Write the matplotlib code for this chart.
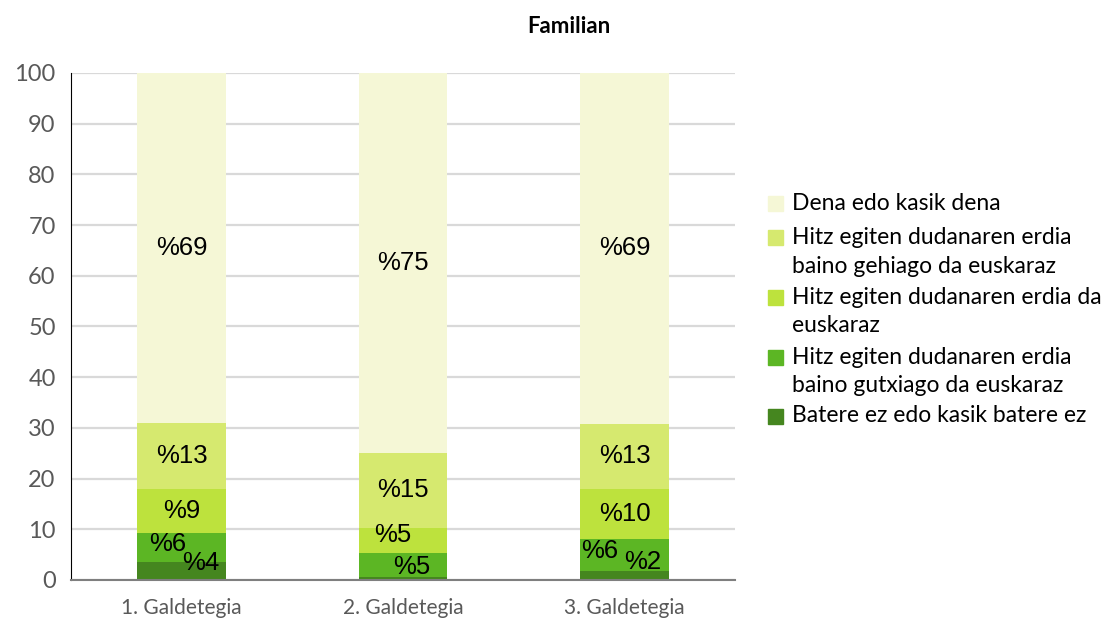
import matplotlib
matplotlib.use("Agg")
import matplotlib.pyplot as plt
from matplotlib.patches import Rectangle
import numpy as np

# data
categories = ['1. Galdetegia', '2. Galdetegia', '3. Galdetegia']
series_names = [
    'Batere ez edo kasik batere ez',
    'Hitz egiten dudanaren erdia\nbaino gutxiago da euskaraz',
    'Hitz egiten dudanaren erdia da\neuskaraz',
    'Hitz egiten dudanaren erdia\nbaino gehiago da euskaraz',
    'Dena edo kasik dena',
]
batere_ez = [3.6, 0.5, 1.8]
gutxiago = [5.6, 4.8, 6.3]
erdia = [8.7, 5.0, 9.9]
gehiago = [13.0, 14.8, 12.8]
dena = [69.1, 74.9, 69.2]
# labels shown in the chart ('' = no label)
labels = [
    ['%4', '', '%2'],
    ['%6', '%5', '%6'],
    ['%9', '%5', '%10'],
    ['%13', '%15', '%13'],
    ['%69', '%75', '%69'],
]
yticks = list(range(0, 101, 10))

colors = ['#45861F', '#5CB624', '#BDE23D', '#D6E96F', '#F5F7D6']

# manual label nudges (series index, bar index) -> (dx in categories, dy in data units)
nudges = {
    (0, 0): (0.086, 1.5), (1, 0): (-0.063, 0.7),
    (1, 1): (0.04, -0.3), (2, 1): (-0.045, 1.1),
    (0, 2): (0.083, 2.65), (1, 2): (-0.11, 0.8),
}

plt.rcParams['font.family'] = ['Lato', 'DejaVu Sans']

fig = plt.figure(figsize=(11.2, 6.26), dpi=100)
ax = fig.add_axes([0.0634, 0.0735, 0.593, 0.81])

series = [batere_ez, gutxiago, erdia, gehiago, dena]
x = np.arange(len(categories))
bottom = np.zeros(len(categories))
for i, vals in enumerate(series):
    vals = np.array(vals)
    ax.bar(x, vals, width=0.4, bottom=bottom, color=colors[i], zorder=2)
    for j in range(len(categories)):
        if labels[i][j]:
            dx, dy = nudges.get((i, j), (0, 0))
            ax.text(x[j] + dx, bottom[j] + vals[j] / 2 + dy, labels[i][j],
                    ha='center', va='center', fontsize=18.5, color='black',
                    family='Liberation Sans', zorder=3)
    bottom += vals

ax.set_xlim(-0.5, 2.5)
ax.set_ylim(0, 100)
ax.set_yticks(yticks)
ax.set_xticks(x)
ax.set_xticklabels(categories)
ax.yaxis.grid(True, color='#D9D9D9', linewidth=1.6, zorder=0)
ax.set_axisbelow(True)
ax.tick_params(axis='both', length=0, colors='#595959')
ax.tick_params(axis='y', labelsize=17, pad=11)
ax.tick_params(axis='x', labelsize=15, pad=13)
for s in ['top', 'right']:
    ax.spines[s].set_visible(False)
ax.spines['left'].set_color('#000000')
ax.spines['left'].set_linewidth(0.8)
ax.spines['bottom'].set_color('#7F7F7F')
ax.spines['bottom'].set_linewidth(1.5)

fig.text(0.508, 0.957, 'Familian', ha='center', va='center', fontsize=16,
         fontweight='bold', color='black')

# legend drawn by hand, top entry first like the original
W, H = 1120, 626
first_line_y = [203, 237, 297, 357, 416]
line_step = 29
for k, idx in enumerate([4, 3, 2, 1, 0]):
    yc = first_line_y[k]
    fig.patches.append(Rectangle((768 / W, 1 - (yc + 8) / H), 15 / W, 15 / H,
                                 transform=fig.transFigure, color=colors[idx]))
    for m, line in enumerate(series_names[idx].split('\n')):
        fig.text(792 / W, 1 - (yc + m * line_step) / H, line, ha='left',
                 va='center', fontsize=16.5, color='black')

fig.savefig('out.png', dpi=100)
